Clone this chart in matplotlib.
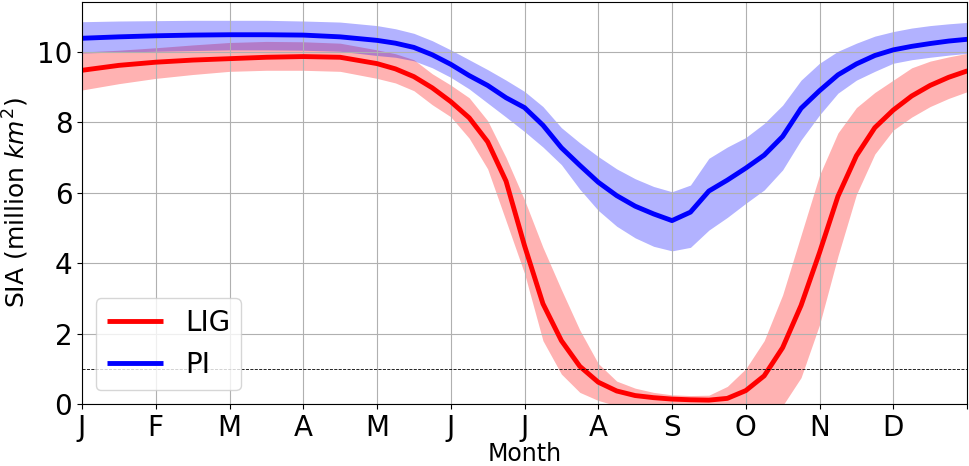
import matplotlib
matplotlib.use("Agg")
import matplotlib.pyplot as plt
import numpy as np

# fractional month positions (0 = start of January, 12 = end of December)
months_x = [0, 0.5, 1, 1.5, 2, 2.5, 3, 3.5, 4, 4.25, 4.5, 4.75, 5, 5.25, 5.5, 5.75,
            6, 6.25, 6.5, 6.75, 7, 7.25, 7.5, 7.75, 8, 8.25, 8.5, 8.75, 9, 9.25,
            9.5, 9.75, 10, 10.25, 10.5, 10.75, 11, 11.25, 11.5, 11.75, 12]

lig_mean = [9.48, 9.62, 9.71, 9.77, 9.81, 9.85, 9.87, 9.85, 9.67, 9.52, 9.30, 8.98,
            8.59, 8.13, 7.45, 6.33, 4.50, 2.85, 1.80, 1.07, 0.62, 0.37, 0.24, 0.18,
            0.14, 0.12, 0.11, 0.16, 0.38, 0.80, 1.60, 2.80, 4.30, 5.90, 7.05, 7.85,
            8.35, 8.75, 9.05, 9.28, 9.46]
lig_upper = [10.00, 10.05, 10.12, 10.20, 10.27, 10.30, 10.29, 10.25, 10.06, 9.95, 9.78,
             9.38, 9.06, 8.70, 8.05, 7.00, 5.80, 4.45, 3.25, 2.10, 1.15, 0.65, 0.45,
             0.33, 0.26, 0.24, 0.25, 0.50, 1.00, 1.80, 3.10, 4.80, 6.50, 7.70, 8.42,
             8.85, 9.20, 9.55, 9.74, 9.86, 9.96]
lig_lower = [8.92, 9.10, 9.25, 9.36, 9.45, 9.48, 9.48, 9.45, 9.25, 9.12, 8.90, 8.50,
             8.16, 7.55, 6.68, 5.20, 3.71, 1.80, 0.85, 0.33, 0.10, -0.05, -0.10, -0.15,
             -0.20, -0.25, -0.30, -0.30, -0.30, -0.20, -0.05, 0.75, 2.25, 4.20, 5.95,
             7.10, 7.78, 8.15, 8.45, 8.68, 8.87]

pi_mean = [10.39, 10.43, 10.46, 10.48, 10.49, 10.49, 10.48, 10.43, 10.33, 10.25, 10.13,
           9.92, 9.65, 9.33, 9.05, 8.70, 8.42, 7.92, 7.28, 6.78, 6.30, 5.92, 5.62,
           5.40, 5.21, 5.45, 6.05, 6.36, 6.70, 7.07, 7.60, 8.40, 8.90, 9.35, 9.66,
           9.90, 10.06, 10.16, 10.24, 10.31, 10.36]
pi_upper = [10.86, 10.88, 10.89, 10.90, 10.90, 10.90, 10.88, 10.85, 10.75, 10.66, 10.53,
            10.32, 10.06, 9.78, 9.50, 9.20, 8.88, 8.45, 7.85, 7.42, 7.03, 6.68, 6.40,
            6.18, 6.03, 6.22, 6.98, 7.30, 7.57, 7.97, 8.49, 9.20, 9.68, 10.02, 10.25,
            10.45, 10.58, 10.68, 10.75, 10.80, 10.84]
pi_lower = [9.97, 10.00, 10.02, 10.04, 10.06, 10.06, 10.05, 10.02, 9.90, 9.85, 9.75,
            9.55, 9.28, 8.95, 8.55, 8.15, 7.74, 7.30, 6.80, 6.10, 5.50, 5.05, 4.72,
            4.48, 4.35, 4.45, 4.94, 5.30, 5.70, 6.08, 6.65, 7.50, 8.21, 8.83, 9.20,
            9.45, 9.68, 9.78, 9.85, 9.91, 9.96]

month_labels = ['J', 'F', 'M', 'A', 'M', 'J', 'J', 'A', 'S', 'O', 'N', 'D', '']
ref_lines = [1, 0]

fig = plt.figure(figsize=(9.69, 4.66), dpi=100)
ax = fig.add_axes([82 / 969, 62 / 466, 885 / 969, 402 / 466])

ax.fill_between(months_x, lig_lower, lig_upper, color='red', alpha=0.3, linewidth=0)
ax.fill_between(months_x, pi_lower, pi_upper, color='blue', alpha=0.3, linewidth=0)
ax.plot(months_x, lig_mean, color='red', lw=3.5, label='LIG',
        solid_joinstyle='round', solid_capstyle='round')
ax.plot(months_x, pi_mean, color='blue', lw=3.5, label='PI',
        solid_joinstyle='round', solid_capstyle='round')

for v in ref_lines:
    ax.axhline(v, color='k', ls='--', lw=0.6)

ax.set_xlim(0, 12)
ax.set_ylim(0, 11.42)
ax.set_xticks(range(13))
ax.set_xticklabels(month_labels)
ax.set_yticks([0, 2, 4, 6, 8, 10])
ax.tick_params(labelsize=20)
ax.grid(True)
ax.set_xlabel('Month', fontsize=17, labelpad=0)
ax.set_ylabel('SIA (million $km^2$)', fontsize=18)
leg = ax.legend(loc='lower left', fontsize=20)
for line in leg.get_lines():
    line.set_solid_capstyle('butt')

fig.savefig('out.png', dpi=100)
